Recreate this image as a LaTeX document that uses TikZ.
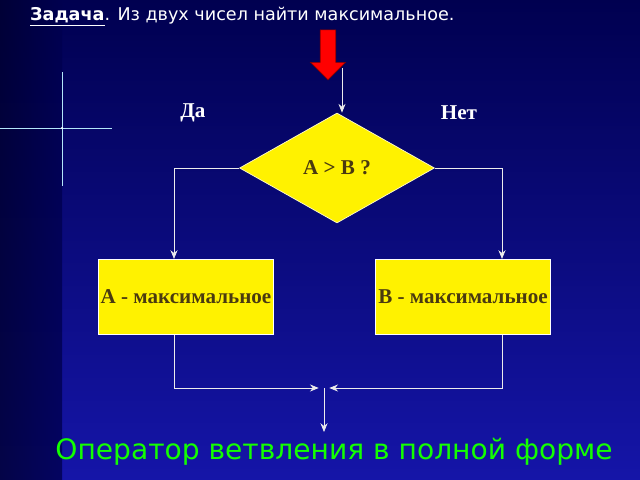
\documentclass[tikz,border=0pt]{standalone}
\usepackage{fontspec}
\setmainfont{Liberation Serif}
\newfontfamily\dejavu{DejaVu Sans}
\usetikzlibrary{shapes.geometric,shapes.arrows,arrows.meta}
\definecolor{bgtop}{HTML}{000050}
\definecolor{bgbot}{HTML}{1515A8}
\definecolor{boxtxt}{HTML}{4A3A10}
\begin{document}
\begin{tikzpicture}[x=0.02cm,y=-0.02cm,
  flow/.style = {draw=white!85!gray,thin,-{Stealth[length=5pt,width=4pt]}},
  link/.style = {draw=white!85!gray,thin},
  actbox/.style = {rectangle,draw=white,semithick,fill=yellow,minimum width=3.5cm,minimum height=1.5cm,
    inner sep=1pt,font=\bfseries\fontsize{12}{14}\selectfont,text=boxtxt},
  answer/.style = {text=white,font=\bfseries\fontsize{12}{14}\selectfont}]
% background
\shade[top color=bgtop,bottom color=bgbot] (0,0) rectangle (640,480);
\shade[left color=bgtop!60!black,right color=bgtop,opacity=0.8] (0,0) rectangle (62,480);
\useasboundingbox (0,0) rectangle (640,480);
\draw[white!70!cyan,line width=0.5pt] (0,128) -- (112,128);
\draw[white!70!cyan,line width=0.5pt] (62,72) -- (62,186);
\fill[white] (62,128) circle (1.2);
% title
\node[anchor=base west,text=white,font=\dejavu\fontsize{10}{12}\selectfont] (title) at (24,20)
  {\underline{\textbf{Задача}}. Из двух чисел найти максимальное.};
% entry arrow
\node[single arrow,shape border rotate=270,draw=red!50!black,fill=red,minimum height=1cm,
  minimum width=0.7cm,single arrow head extend=1.5pt,inner sep=1pt] (entry) at (328,51) {};
\coordinate (start) at (342,68);
% decision
\node[diamond,fill=yellow,draw=white!80!yellow,aspect=1.8,minimum width=3.9cm,minimum height=2.2cm,
  inner sep=0pt,font=\bfseries\fontsize{12}{14}\selectfont,text=boxtxt] (cond) at (337,168) {A > B ?};
\node[answer] (yes) at (193,113) {Да};
\node[answer] (no) at (459,113) {Нет};
% actions
\node[actbox] (amax) at (186,297) {A - максимальное};
\node[actbox] (bmax) at (463,297) {B - максимальное};
\coordinate (join) at (324,388);
\coordinate (exit) at (324,432);
\draw[flow] (start) -- (start |- cond.north);
\draw[flow] (cond.west) -| (amax.north -| 174,0);
\draw[flow] (cond.east) -| (bmax.north -| 502,0);
\draw[flow] (amax.south -| 174,0) |- ([xshift=-3pt]join);
\draw[flow] (bmax.south -| 502,0) |- ([xshift=3pt]join);
\draw[flow] (join) -- (exit);
% caption
\node[text=green!90!lime,font=\dejavu\fontsize{16}{19}\selectfont] (caption) at (334,452)
  {Оператор ветвления в полной форме};
\end{tikzpicture}
\end{document}
